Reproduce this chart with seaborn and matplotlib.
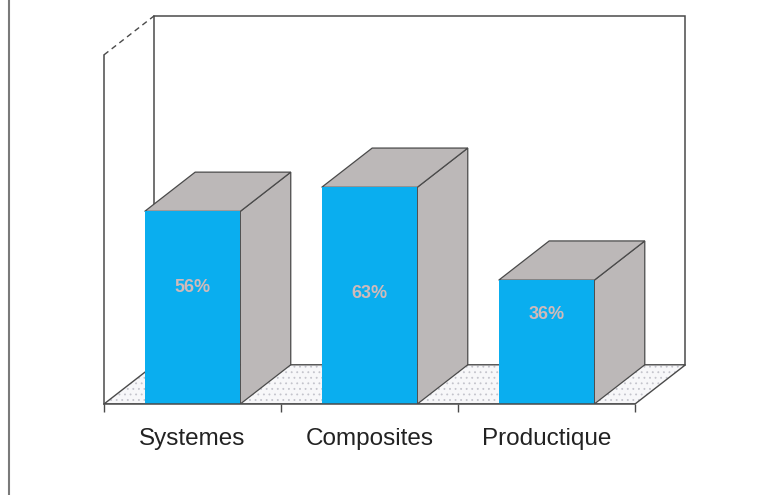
import matplotlib
matplotlib.use("Agg")
import matplotlib.pyplot as plt
from matplotlib.patches import Polygon
from matplotlib.lines import Line2D
import seaborn as sns
import pandas as pd

categories = ["Systemes", "Composites", "Productique"]
values = [56, 63, 36]
value_labels = ["56%", "63%", "36%"]
label_y = [34, 32, 26]

sns.set_theme(style="white")
plt.rcParams['font.family'] = ['Liberation Sans', 'DejaVu Sans']
plt.rcParams['hatch.linewidth'] = 0.6

BLUE = "#0aaeef"
GRAY = "#bcb8b8"
EDGE = "#4a4a4a"
DX, DY = 0.285, 11.4   # depth offset in data units
TOP = 101.5

df = pd.DataFrame({"cat": categories, "val": values})

fig = plt.figure(figsize=(7.65, 4.95), dpi=100)
ax = fig.add_axes([104/765, 91/495, 593/765, 395.6/495])

sns.barplot(data=df, x="cat", y="val", color=BLUE, width=0.54, ax=ax,
            saturation=1, zorder=4, linewidth=0)
ax.set_xlim(-0.5, 2.85)
ax.set_ylim(0, 115)

# floor
floor_pts = [(-0.5, 0), (2.5, 0), (2.5 + DX, DY), (-0.5 + DX, DY)]
ax.add_patch(Polygon(floor_pts, closed=True, facecolor="#f7f7f9",
                     edgecolor="#c4c4cc", lw=0, hatch="...", zorder=1))
ax.add_patch(Polygon(floor_pts, closed=True, fill=False,
                     edgecolor=EDGE, lw=1.0, zorder=1.5))

# back wall outline
ax.plot([-0.5 + DX, -0.5 + DX, 2.5 + DX, 2.5 + DX],
        [DY, TOP + DY, TOP + DY, DY], color=EDGE, lw=1.1, zorder=2,
        solid_joinstyle="miter")
# dashed connector
ax.plot([-0.5, -0.5 + DX], [TOP, TOP + DY], color=EDGE, lw=1.0,
        ls=(0, (4, 3)), zorder=2)

# 3D sides of bars
for p, v, lab, ly in zip(ax.patches, values, value_labels, label_y):
    x0 = p.get_x()
    w = p.get_width()
    h = p.get_height()
    x1 = x0 + w
    side = Polygon([(x1, 0), (x1 + DX, DY), (x1 + DX, h + DY), (x1, h)],
                   closed=True, facecolor=GRAY, edgecolor=EDGE, lw=0.9, zorder=3)
    top = Polygon([(x0, h), (x0 + DX, h + DY), (x1 + DX, h + DY), (x1, h)],
                  closed=True, facecolor=GRAY, edgecolor=EDGE, lw=0.9, zorder=3)
    ax.add_patch(side)
    ax.add_patch(top)
    ax.text(x0 + w / 2, ly, lab, ha="center", va="center", fontsize=13,
            fontweight="bold", color="#d0baba", zorder=6)

# axes styling
for s in ["top", "right"]:
    ax.spines[s].set_visible(False)
ax.spines["left"].set_bounds(0, TOP)
ax.spines["bottom"].set_bounds(-0.5, 2.5)
for s in ["left", "bottom"]:
    ax.spines[s].set_color(EDGE)
    ax.spines[s].set_linewidth(1.1)
    ax.spines[s].set_zorder(5)
ax.set_yticks([])
ax.set_xticks([0, 1, 2])
ax.set_xticklabels(categories, fontsize=17.5, color="#222222")
ax.set_xticks([-0.5, 0.5, 1.5, 2.5], minor=True)
ax.tick_params(axis="x", which="major", length=0, pad=17)
ax.tick_params(axis="x", which="minor", length=6, width=1.0, color=EDGE,
               direction="out", bottom=True)
ax.set_xlabel("")
ax.set_ylabel("")
ax.patch.set_alpha(0)

# left border of the page
fig.add_artist(Line2D([8.5/765, 8.5/765], [0, 1], color="#7a7a7a", lw=1.5))

fig.savefig("out.png", dpi=100)
